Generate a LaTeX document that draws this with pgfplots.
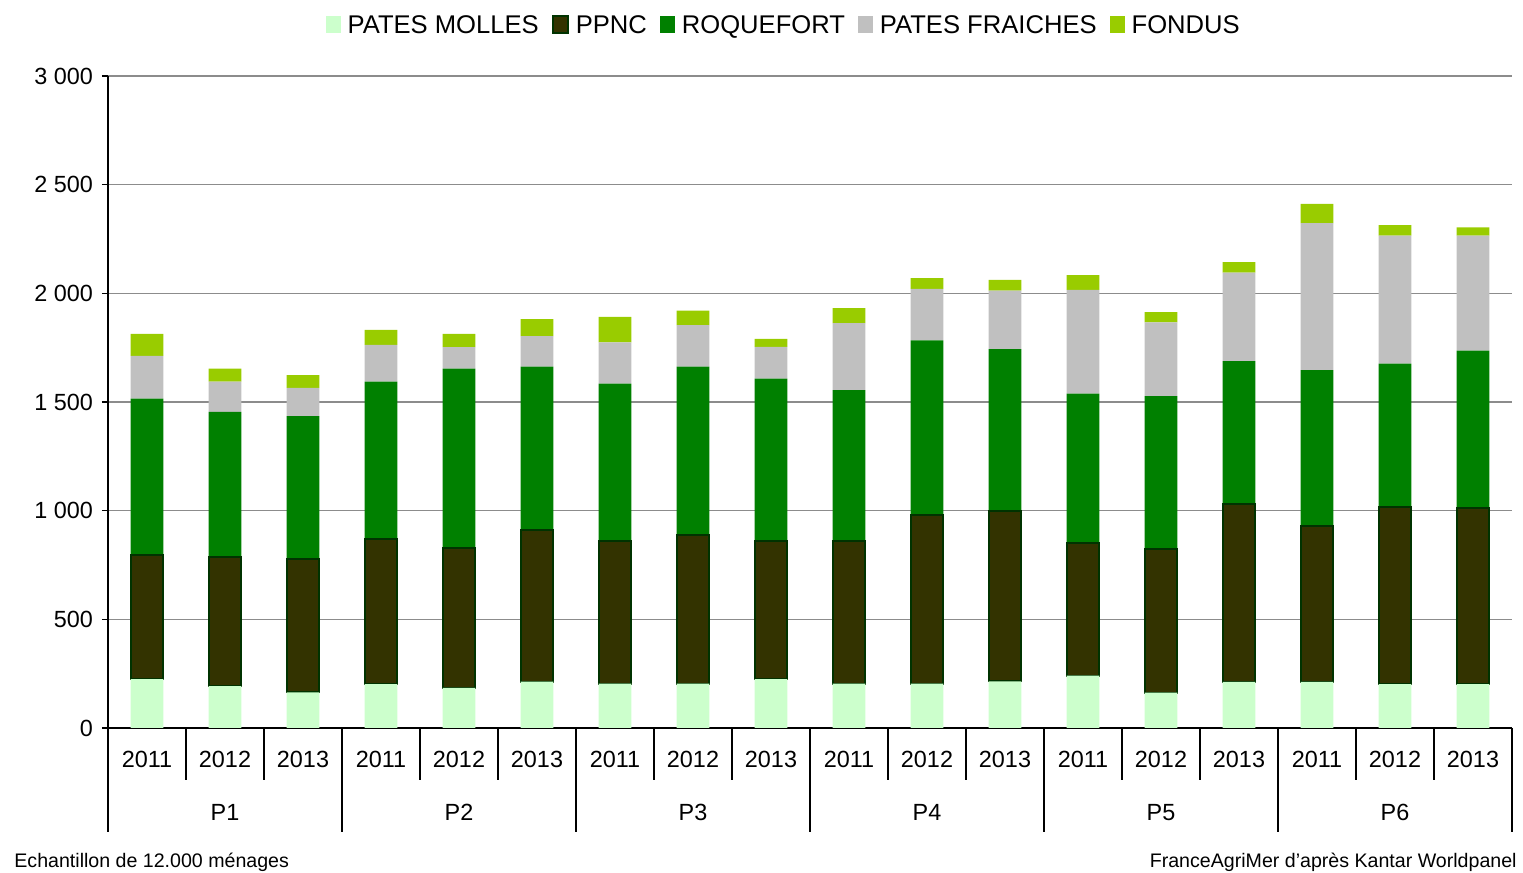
\documentclass[border=0pt]{standalone}
\usepackage{fontspec}
\setmainfont{Liberation Sans}
\usepackage{pgfplots}
\usepackage{pgfplotstable}
\pgfplotsset{compat=1.18}
\definecolor{cMolles}{HTML}{CCFFCC}
\definecolor{cPPNC}{HTML}{333300}
\definecolor{cPPNCedge}{HTML}{003300}
\definecolor{cRoq}{HTML}{008000}
\definecolor{cPF}{HTML}{C0C0C0}
\definecolor{cFondus}{HTML}{99CC00}
\definecolor{cGrid}{HTML}{8C8C8C}
\pgfplotstableread{
x molles ppnc roq pf fondus
0  225 573 717 197 102
1  193 595 667 139 59
2  164 615 656 130 59
3  202 667 725 169 69
4  185 644 825 98  62
5  213 696 754 140 78
6  204 656 725 189 118
7  204 685 774 191 67
8  225 635 747 147 37
9  204 656 695 308 69
10 204 776 803 238 49
11 214 784 745 270 49
12 241 608 690 477 68
13 163 659 705 339 47
14 212 817 659 407 49
15 212 718 717 676 89
16 202 816 658 589 49
17 202 808 726 529 39
}\datatable
\begin{document}
\begin{tikzpicture}
\path[use as bounding box] (0,0) rectangle (761.5pt,436.5pt);
\begin{axis}[
  at={(54pt,72.5pt)}, anchor=south west, scale only axis,
  width=702pt, height=326pt,
  ybar stacked, bar width=0.42,
  xmin=-0.5, xmax=17.5, ymin=0, ymax=3000,
  ytick={0,500,...,3000},
  yticklabels={0,500,1 000,1 500,2 000,2 500,3 000},
  xtick=\empty,
  axis lines*=left,
  axis line style={black, line width=0.6pt},
  ymajorgrids, major grid style={color=cGrid, line width=0.6pt},
  tick align=outside, major tick length=3pt,
  y tick style={black, line width=0.6pt},
  /pgf/number format/assume math mode=true,
  tick label style={font=\fontsize{11.7pt}{13pt}\selectfont},
  yticklabel style={xshift=-1pt},
  clip=false,
  legend columns=5,
  legend style={at={(0.482,1.077)}, anchor=center, draw=none,
    font=\fontsize{12.8pt}{14pt}\selectfont,
    /tikz/every even column/.style={column sep=4.5pt},
    /tikz/every odd column/.style={column sep=1.5pt}},
  legend image code/.code={\fill[#1] (0pt,-3.5pt) rectangle (7.5pt,5pt);},
]
\addplot[fill=cMolles, draw=none] table[x=x, y=molles]{\datatable};
\addlegendentry{PATES MOLLES}
\addplot[fill=cPPNC, draw=cPPNCedge, line width=1pt] table[x=x, y=ppnc]{\datatable};
\addlegendentry{PPNC}
\addplot[fill=cRoq, draw=none] table[x=x, y=roq]{\datatable};
\addlegendentry{ROQUEFORT}
\addplot[fill=cPF, draw=none] table[x=x, y=pf]{\datatable};
\addlegendentry{PATES FRAICHES}
\addplot[fill=cFondus, draw=none] table[x=x, y=fondus]{\datatable};
\addlegendentry{FONDUS}
% separators
\pgfplotsinvokeforeach{0.5,1.5,3.5,4.5,6.5,7.5,9.5,10.5,12.5,13.5,15.5,16.5}{
  \draw[black, line width=0.6pt] (axis cs:#1,0) -- ([yshift=-26pt]axis cs:#1,0);
}
\pgfplotsinvokeforeach{-0.5,2.5,5.5,8.5,11.5,14.5,17.5}{
  \draw[black, line width=0.6pt] (axis cs:#1,0) -- ([yshift=-52pt]axis cs:#1,0);
}
\pgfplotsinvokeforeach{0,3,6,9,12,15}{
  \node[anchor=base, font=\fontsize{11.7pt}{13pt}\selectfont] at (axis cs:#1,0) [yshift=-20pt] {2011};
  \node[anchor=base, font=\fontsize{11.7pt}{13pt}\selectfont] at (axis cs:#1+1,0) [yshift=-20pt] {2012};
  \node[anchor=base, font=\fontsize{11.7pt}{13pt}\selectfont] at (axis cs:#1+2,0) [yshift=-20pt] {2013};
}
\node[anchor=base, font=\fontsize{11.7pt}{13pt}\selectfont] at (axis cs:1,0) [yshift=-46.4pt] {P1};
\node[anchor=base, font=\fontsize{11.7pt}{13pt}\selectfont] at (axis cs:4,0) [yshift=-46.4pt] {P2};
\node[anchor=base, font=\fontsize{11.7pt}{13pt}\selectfont] at (axis cs:7,0) [yshift=-46.4pt] {P3};
\node[anchor=base, font=\fontsize{11.7pt}{13pt}\selectfont] at (axis cs:10,0) [yshift=-46.4pt] {P4};
\node[anchor=base, font=\fontsize{11.7pt}{13pt}\selectfont] at (axis cs:13,0) [yshift=-46.4pt] {P5};
\node[anchor=base, font=\fontsize{11.7pt}{13pt}\selectfont] at (axis cs:16,0) [yshift=-46.4pt] {P6};
\end{axis}
\node[anchor=base west, inner sep=0pt, font=\fontsize{9.8pt}{12pt}\selectfont] at (7pt,2.5pt) {Echantillon de 12.000 ménages};
\node[anchor=base east, inner sep=0pt, font=\fontsize{9.8pt}{12pt}\selectfont] at (758.5pt,2.5pt) {FranceAgriMer d'après Kantar Worldpanel};
\end{tikzpicture}
\end{document}
